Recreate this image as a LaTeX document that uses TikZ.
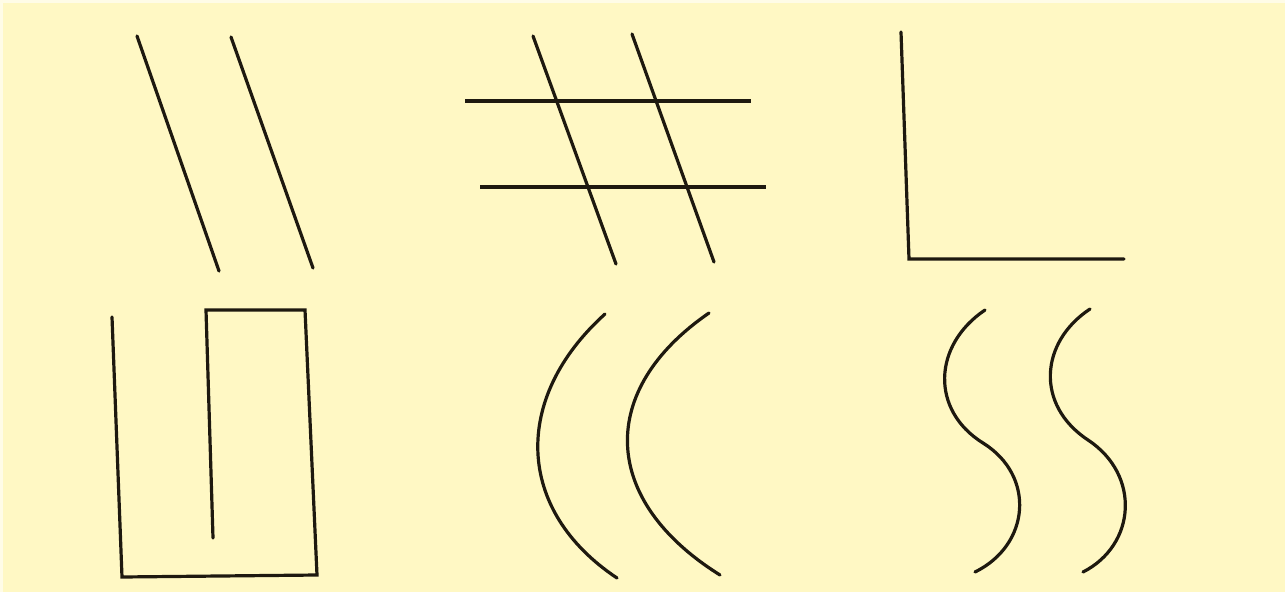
\documentclass[tikz,border=0pt]{standalone}
\definecolor{bg}{RGB}{255,248,196}
\definecolor{ink}{RGB}{30,25,15}
\begin{document}
\begin{tikzpicture}[x=1pt,y=-1pt,
  stroke/.style={draw=ink,line width=3.2pt,line cap=round,line join=miter},
  thick stroke/.style={draw=ink,line width=4pt}]
\fill[bg] (0,0) rectangle (1285,592);
\useasboundingbox (0,0) rectangle (1285,592);
\fill[white!60!bg] (0,0) rectangle (1285,3);
\fill[white!60!bg] (0,0) rectangle (3,592);
% panel 1: two slanted lines
\draw[stroke] (137,36) -- (219,271);
\draw[stroke] (231,37) -- (313,268);
% panel 2: hash
\draw[stroke] (533,36) -- (616,264);
\draw[stroke] (632,34) -- (714,262);
\draw[thick stroke] (465,101) -- (751,101);
\draw[thick stroke] (480,187) -- (766,187);
% panel 3: L
\draw[stroke] (901,32) -- (909,259) -- (1124,259);
% panel 4: meander
\draw[stroke] (112,317) -- (122,577) -- (317,575) -- (305,310) -- (206,310) -- (213,538);
% panel 5: two arcs
\draw[stroke] (605,314) .. controls (512,398) and (515,510) .. (617,578);
\draw[stroke] (709,313) .. controls (597,390) and (600,500) .. (720,575);
% panel 6: two S curves
\draw[stroke] (985,310) .. controls (933,345) and (930,410) .. (983,443)
  .. controls (1036,476) and (1030,545) .. (975,572);
\draw[stroke] (1090,309) .. controls (1040,342) and (1035,405) .. (1088,440)
  .. controls (1141,475) and (1136,545) .. (1083,572);
\end{tikzpicture}
\end{document}
